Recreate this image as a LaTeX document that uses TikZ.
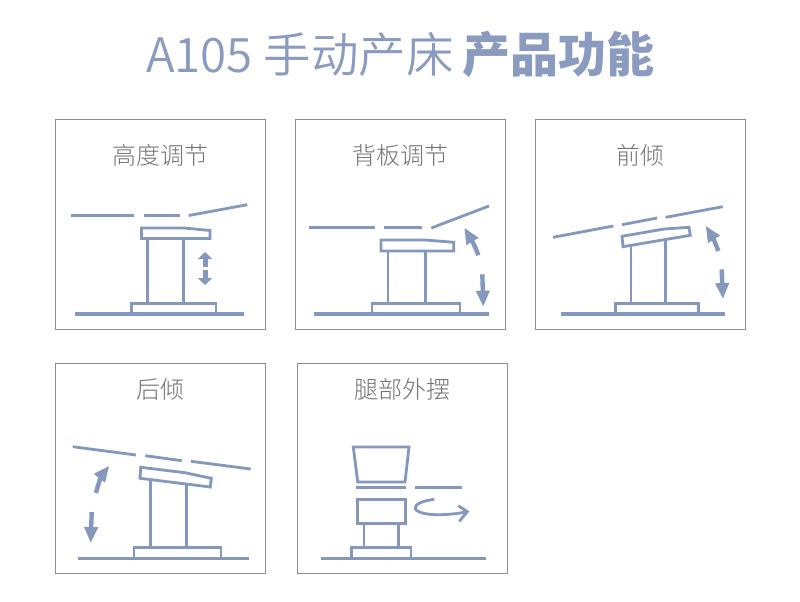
\documentclass[tikz,border=0pt]{standalone}
\usepackage{xcolor}
\usepackage{fontspec}
\usetikzlibrary{arrows.meta}
\newfontfamily\cjk{Noto Sans CJK SC}
\newfontfamily\cjklight{Noto Sans CJK SC Light}
\newfontfamily\cjkdemi{Noto Sans CJK SC DemiLight}
\definecolor{bedblue}{HTML}{8497BD}
\definecolor{titleblue}{HTML}{8A9BBF}
\definecolor{labelgray}{HTML}{808080}
\tikzset{
  panelbox/.style={draw=labelgray!90, line width=1pt, fill=white},
  panellabel/.style={font=\cjklight\fontsize{24}{24}\selectfont, text=labelgray!90!black, anchor=base},
  bedline/.style={bedblue, line width=2.8pt},
  floorline/.style={bedblue, line width=3.2pt},
  swingarrow/.style={bedblue, line width=4.4pt, -{Triangle[length=16pt,width=13pt]}},
  liftarrow/.style={bedblue, line width=5pt, -{Triangle[length=7pt,width=14pt]}}
}

\begin{document}
\begin{tikzpicture}[x=1pt, y=-1pt]
  \useasboundingbox (0,0) rectangle (800,602);
  \node[font=\cjkdemi\fontsize{47.5}{48}\selectfont, text=titleblue, anchor=base west, inner sep=0pt] (maintitle) at (146,72) {A105 手动产床};
  \node[font=\cjk\fontsize{48}{48}\selectfont\bfseries, text=titleblue, anchor=base east, inner sep=0pt] (functitle) at (655,72) {产品功能};
  % Panel 1: height
  \draw[panelbox] (55,119.7) rectangle (265,329);
  \node[panellabel] (heightlabel) at (160,164) {高度调节};
  \draw[bedline] (71,215.5) -- (134.3,215.5);
  \draw[bedline] (143.7,215.5) -- (179.7,215.5);
  \draw[bedline] (188.7,215.5) -- (247.3,204.7);
  \draw[bedline] (141.5,228) -- (184,228) -- (210,230.5) -- (210,238.5) -- (141.5,238.5) -- cycle;
  \draw[bedline] (147.3,238.5) -- (147.3,303.7);
  \draw[bedline] (183.3,238.5) -- (183.3,303.7);
  \draw[bedline] (131.3,314) -- (131.3,303.7) -- (216,303.7) -- (216,314);
  \draw[floorline] (75.3,314) -- (244,314);
  \draw[liftarrow] (205,267) -- (205,252);
  \draw[liftarrow] (205,270) -- (205,285);
  % Panel 2: back board
  \draw[panelbox] (295,119.7) rectangle (505,329);
  \node[panellabel] (backlabel) at (400,164) {背板调节};
  \draw[bedline] (309.3,227.7) -- (374.7,227.7);
  \draw[bedline] (384.3,227.7) -- (421.7,227.7);
  \draw[bedline] (431.3,228) -- (489,206);
  \draw[bedline] (381,240) -- (425,240) -- (453.7,242.3) -- (453.7,251) -- (381,251) -- cycle;
  \draw[bedline] (388,251) -- (388,303.7);
  \draw[bedline] (425.3,251) -- (425.3,303.7);
  \draw[bedline] (372,314) -- (372,303.7) -- (460,303.7) -- (460,314);
  \draw[floorline] (314,314) -- (488.7,314);
  \draw[swingarrow] (478.3,255.3) .. controls (476,248) and (471,239) .. (464.3,227.7);
  \draw[swingarrow] (482.3,274.3) .. controls (482.6,284) and (483,296) .. (483.3,306.7);
  % Panel 3: forward tilt
  \draw[panelbox] (535,119.7) rectangle (745,329);
  \node[panellabel] (forwardlabel) at (640,164) {前倾};
  \draw[bedline] (553,237.3) -- (613.3,226);
  \draw[bedline] (622,224.7) -- (657,218);
  \draw[bedline] (665.7,217.3) -- (722.7,206.7);
  \draw[bedline] (622,236.3) -- (664.3,229) -- (689,227.3) -- (690.3,235.3) -- (623,246.7) -- cycle;
  \draw[bedline] (631,245) -- (631,303.7);
  \draw[bedline] (665.7,239) -- (665.7,303.7);
  \draw[bedline] (615.3,314) -- (615.3,303.7) -- (698.3,303.7) -- (698.3,314);
  \draw[floorline] (561,314) -- (725,314);
  \draw[swingarrow] (718.3,251) .. controls (716,244) and (712,236) .. (705.7,225.7);
  \draw[swingarrow] (721.7,269.3) .. controls (722,279) and (722.5,289) .. (723,299);
  % Panel 4: backward tilt
  \draw[panelbox] (55,363.5) rectangle (265,573);
  \node[panellabel] (backwardlabel) at (160,398) {后倾};
  \draw[bedline] (72.7,446.7) -- (136,455);
  \draw[bedline] (145.3,455.7) -- (181.7,460.7);
  \draw[bedline] (191,461.3) -- (250.7,469);
  \draw[bedline] (140.7,467.3) -- (185,472.7) -- (211.3,478.3) -- (210.3,487) -- (140,478.3) -- cycle;
  \draw[bedline] (150.3,479.5) -- (150.3,547.7);
  \draw[bedline] (186.7,484.5) -- (186.7,547.7);
  \draw[bedline] (134,558) -- (134,547.7) -- (221,547.7) -- (221,558);
  \draw[floorline] (77.7,558.3) -- (249,558.3);
  \draw[swingarrow] (96,493) .. controls (98,484) and (102,475) .. (109.3,465.7);
  \draw[swingarrow] (91.7,512) .. controls (91.4,522) and (91,533) .. (90.7,543);
  % Panel 5: leg swing
  \draw[panelbox] (297,363.5) rectangle (507,573);
  \node[panellabel] (leglabel) at (402,398) {腿部外摆};
  \draw[bedline] (353.3,447) -- (409,447) -- (405,482) -- (357.7,482) -- cycle;
  \draw[bedline] (356,487.7) -- (406.3,487.7);
  \draw[bedline] (415,487.7) -- (462,487.7);
  \draw[bedline] (357.3,499.7) rectangle (405.3,523.7);
  \draw[bedline] (364,523.7) -- (364,547.7);
  \draw[bedline] (398.7,523.7) -- (398.7,547.7);
  \draw[bedline] (351.3,558) -- (351.3,547.7) -- (411,547.7) -- (411,558);
  \draw[floorline] (321,558.3) -- (485.7,558.3);
  \draw[bedline] (434.3,499.3) .. controls (422,501) and (415.3,504) .. (415.3,508) .. controls (415.3,512) and (426,515) .. (440,514.7) .. controls (450,514.5) and (459,513.5) .. (467,511.7);
  \draw[bedline, line join=miter] (458.3,505.7) -- (467.3,511.7) -- (459.3,521.3);
\end{tikzpicture}
\end{document}
